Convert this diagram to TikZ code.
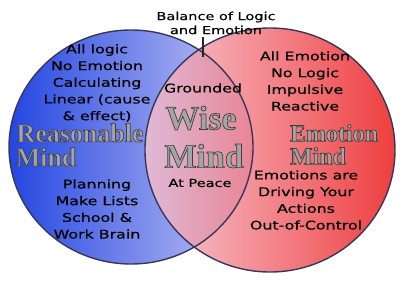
\documentclass[tikz,border=0pt]{standalone}
\usepackage{fontspec}
\newfontfamily\handfont[FakeStretch=1.32, FakeBold=0.4]{DejaVu Sans}
\newfontfamily\bigserif{Liberation Serif}
\newcommand{\outlinedtext}[1]{\special{pdf:literal direct 0.25 0.25 0.25 RG 0.7 w 2 Tr}#1\special{pdf:literal direct 0 Tr}}
\definecolor{bluestrong}{RGB}{35,70,225}
\definecolor{bluelight}{RGB}{200,200,245}
\definecolor{redlight}{RGB}{245,195,210}
\definecolor{redstrong}{RGB}{235,20,20}
\definecolor{rim}{RGB}{55,55,90}
\definecolor{biggray}{RGB}{165,165,165}
\tikzset{
  handtext/.style={align=center, inner sep=0pt, font=\handfont\fontsize{12}{16.7}\selectfont},
  bigtext/.style={inner sep=0pt, text=biggray, font=\bigserif\bfseries},
  rimline/.style={draw=rim, line width=1.4pt}
}
\begin{document}
\begin{tikzpicture}[x=1pt,y=-1pt]
\useasboundingbox (0,0) rectangle (400,300);
\shade[left color=bluestrong, right color=bluelight] (131,147) ellipse [x radius=122, y radius=117];
\shade[left color=redlight, right color=redstrong, opacity=0.82] (270,150) ellipse [x radius=125, y radius=122];
\path[rimline] (131,147) ellipse [x radius=122, y radius=117];
\path[rimline] (270,150) ellipse [x radius=125, y radius=122];
\node[handtext, font=\handfont\fontsize{11}{14}\selectfont] (balance) at (216,23) {Balance of Logic\\and Emotion};
\coordinate (ticktop) at (203,37);
\coordinate (tickbot) at (203,57);
\draw[line width=1.3pt, black!85] (ticktop) -- (tickbot);
\node[handtext] (lefttop) at (97,83) {All logic\\No Emotion\\Calculating\\Linear (cause\\\& effect)};
\node[handtext] (leftbot) at (97,209) {Planning\\Make Lists\\School \&\\Work Brain};
\node[handtext] (righttop) at (305,81) {All Emotion\\No Logic\\Impulsive\\Reactive};
\node[handtext] (rightbot) at (306,200) {Emotions are\\Driving Your\\Actions\\Out-of-Control};
\node[handtext] (grounded) at (203,88) {Grounded};
\node[handtext, font=\handfont\fontsize{11}{14}\selectfont] (peace) at (200,183) {At Peace};
\node[bigtext, font=\bigserif\bfseries\fontsize{26}{26}\selectfont] (reas) at (80,133) {\outlinedtext{Reasonable}};
\node[bigtext, font=\bigserif\bfseries\fontsize{26}{26}\selectfont] (reasmind) at (46,157) {\outlinedtext{Mind}};
\node[bigtext, font=\bigserif\bfseries\fontsize{34}{34}\selectfont] (wise) at (201,118) {\outlinedtext{Wise}};
\node[bigtext, font=\bigserif\bfseries\fontsize{34}{34}\selectfont] (wisemind) at (204,156) {\outlinedtext{Mind}};
\node[bigtext, font=\bigserif\bfseries\fontsize{24}{24}\selectfont] (emo) at (334,133) {\outlinedtext{Emotion}};
\node[bigtext, font=\bigserif\bfseries\fontsize{24}{24}\selectfont] (emomind) at (318,156) {\outlinedtext{Mind}};
\end{tikzpicture}
\end{document}
